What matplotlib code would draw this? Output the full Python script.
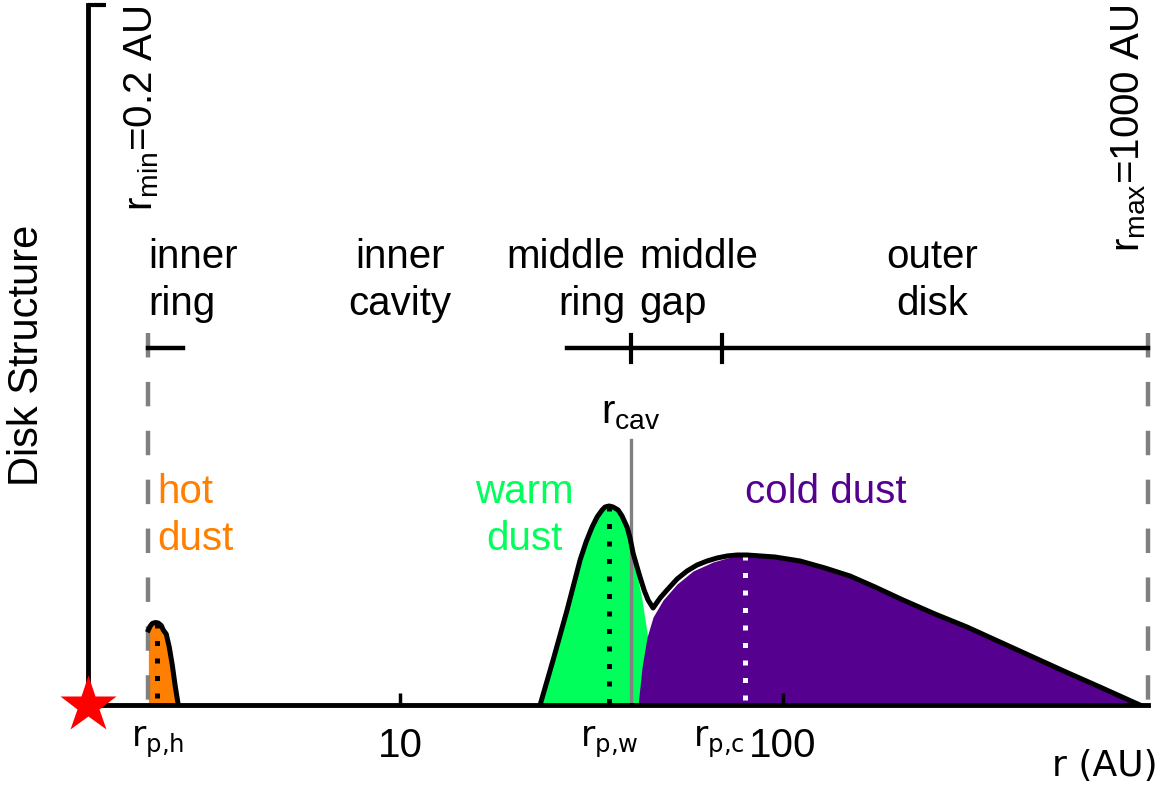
import matplotlib.pyplot as plt
from matplotlib.ticker import NullLocator

plt.rcParams['font.family'] = ['Liberation Sans', 'DejaVu Sans']

# radii in AU as placed on the sketch, heights in arbitrary units
r_axis = [1.53, 898]
r_min_pos = 2.2
r_max_pos = 898
r_ring_end = 2.71
r_mid_start = 27.3
r_cav = 40.0
r_gap = 69.3
r_ph, r_pw, r_pc = 2.32, 35.1, 79.6
h_ph, h_pw, h_pc = 82, 199, 150

hot_r = [2.20, 2.225, 2.252, 2.293, 2.334, 2.377, 2.406, 2.449, 2.494, 2.540,
         2.585, 2.633]
hot_h = [75, 79, 81.5, 82.5, 82, 79.5, 75, 71, 58, 40, 19, 0]

warm_r = [23.20, 25.09, 27.29, 29.51, 30.59, 31.72, 32.69, 33.69, 34.30, 35.14,
          35.98, 37.09, 37.98, 39.14, 39.86, 40.58, 41.57, 42.84, 44.15, 44.95, 45.77]
warm_h = [0, 45, 95, 145, 163, 178, 188, 195, 198, 199,
          198, 195, 189, 178, 167, 152, 130, 105, 72, 45, 0]

cold_r = [41.82, 42.84, 44.15, 45.77, 48.61, 52.88, 58.21, 65.65, 71.42, 75.84,
          80.54, 95.3, 110.8, 128.7, 149.6, 173.9, 205.8, 249.4, 302.3, 368.7,
          449.5, 548.2, 672.5, 855.2]
cold_h = [0, 38, 68, 88, 105, 121, 134, 143, 147, 149,
          150, 148, 144, 137, 129, 118, 105, 91, 78, 63,
          48, 33, 18, 0]

total_r = [23.20, 25.09, 27.29, 29.51, 30.59, 31.72, 32.69, 33.69, 34.30, 35.14,
           35.98, 37.09, 37.98, 39.14, 39.86, 40.58, 41.57, 42.32, 43.36, 44.41,
           45.77, 47.74, 49.79, 52.88, 56.15, 59.63, 63.33, 67.25, 71.42, 75.84,
           80.54, 95.3, 110.8, 128.7, 149.6, 173.9, 205.8, 249.4, 302.3, 368.7,
           449.5, 548.2, 672.5, 855.2]
total_h = [0, 45, 95, 145, 163, 178, 188, 195, 198, 199,
           198, 195, 189, 178, 167, 152, 138, 128, 115, 105,
           97, 107, 115, 126, 134, 140, 144, 147, 149, 150,
           150, 148, 144, 137, 129, 118, 105, 91, 78, 63,
           48, 33, 18, 0]

hot_c = '#FF7F00'
warm_c = '#00FF5A'
cold_c = '#560090'
grey = '#808080'

fig = plt.figure(figsize=(11.67, 7.87), dpi=100)
ax = fig.add_axes([88 / 1167, 82 / 787, 1060 / 1167, 700 / 787])
ax.set_xscale('log')
ax.set_xlim(r_axis)
ax.set_ylim(0, 700)

# dust components
ax.fill_between(hot_r, hot_h, 0, color=hot_c, lw=0, zorder=1)
ax.fill_between(warm_r, warm_h, 0, color=warm_c, lw=0, zorder=1)
ax.fill_between(cold_r, cold_h, 0, color=cold_c, lw=0, zorder=1.5)

ax.plot([r_cav, r_cav], [265, 0], color=grey, lw=2.4, zorder=2)

ax.plot([r_ph, r_ph], [h_ph, 0], color='k', lw=3.6, ls=(0, (1, 2.5)), zorder=2)
ax.plot([r_pw, r_pw], [h_pw, 0], color='k', lw=3.6, ls=(0, (1, 2.5)), zorder=2)
ax.plot([r_pc, r_pc], [h_pc, 0], color='white', lw=3.6, ls=(0, (1, 2.5)), zorder=2)

ax.plot(hot_r, hot_h, color='k', lw=3.6, solid_joinstyle='round', zorder=3)
ax.plot(total_r, total_h, color='k', lw=3.6, solid_joinstyle='round', zorder=3)

# rmin / rmax boundaries
for r in (r_min_pos, r_max_pos):
    ax.plot([r, r], [372, 0], color=grey, lw=3.2, ls=(0, (5.5, 5.5)), zorder=2,
            clip_on=False)

# structure bars
ax.plot([r_min_pos, r_ring_end], [357, 357], color='k', lw=3.2, zorder=3)
ax.plot([r_mid_start, r_max_pos], [357, 357], color='k', lw=3.2, zorder=3,
        clip_on=False)
for r in (r_cav, r_gap):
    ax.plot([r, r], [343, 370], color='k', lw=3.0, zorder=3)

ax.plot(r_axis[0], 0, marker='*', ms=43, color='red', mec='none',
        clip_on=False, zorder=10)

for side in ('top', 'right'):
    ax.spines[side].set_visible(False)
for side in ('left', 'bottom'):
    ax.spines[side].set_linewidth(3.5)

ax.set_xticks([10, 100])
ax.set_xticklabels(['10', '100'])
ax.xaxis.set_minor_locator(NullLocator())
ax.tick_params(axis='x', direction='in', length=8.5, width=2.5, pad=16,
               labelsize=29)
ax.set_yticks([700])
ax.tick_params(axis='y', direction='in', length=13, width=3, labelleft=False)

fs = 29
top_y = 467
ax.text(r_min_pos, top_y, 'inner\nring', ha='left', va='top', fontsize=fs,
        linespacing=1.3)
ax.text(10, top_y, 'inner\ncavity', ha='center', va='top', fontsize=fs,
        linespacing=1.3)
ax.annotate('middle\nring', (r_cav, top_y), xytext=(-4, 0),
            textcoords='offset points', ha='right', va='top', fontsize=fs,
            linespacing=1.3)
ax.annotate('middle\ngap', (r_cav, top_y), xytext=(6, 0),
            textcoords='offset points', ha='left', va='top', fontsize=fs,
            linespacing=1.3)
ax.text(245, top_y, 'outer\ndisk', ha='center', va='top', fontsize=fs,
        linespacing=1.3)

ax.text(r_ph, 232, 'hot\ndust', ha='left', va='top', fontsize=fs,
        linespacing=1.3, color=hot_c)
ax.text(21.1, 232, 'warm\ndust', ha='center', va='top', fontsize=fs,
        linespacing=1.3, color=warm_c)
ax.text(r_pc, 202, 'cold dust', ha='left', va='baseline', fontsize=fs,
        color=cold_c)

ax.text(r_cav, 282, r'$\mathregular{r_{cav}}$', ha='center', va='baseline',
        fontsize=fs)

ax.annotate(r'$\mathregular{r_{min}}$=0.2 AU', (r_min_pos, 700), xytext=(-5, 0),
            textcoords='offset points', ha='center', va='top', rotation=90,
            fontsize=fs, annotation_clip=False)
ax.annotate(r'$\mathregular{r_{max}}$=1000 AU', (r_max_pos, 700), xytext=(-14, 0),
            textcoords='offset points', ha='center', va='top', rotation=90,
            fontsize=fs, annotation_clip=False)

bfs = 25
ax.text(r_ph, -42, r'$\mathregular{r_{p{,}h}}$', ha='center', va='baseline',
        fontsize=bfs, family='DejaVu Sans', clip_on=False)
ax.text(r_pw, -42, r'$\mathregular{r_{p{,}w}}$', ha='center', va='baseline',
        fontsize=bfs, family='DejaVu Sans', clip_on=False)
ax.text(r_pc, -42, r'$\mathregular{r_{p{,}c}}$', ha='right', va='baseline',
        fontsize=bfs, family='DejaVu Sans', clip_on=False)
ax.text(1.0094, -0.101, 'r (AU)', transform=ax.transAxes, ha='right',
        va='baseline', fontsize=26, family='DejaVu Sans')

fig.text(27 / 1167, 1 - 355 / 787, 'Disk Structure', rotation=90, ha='center',
         va='center', fontsize=30)

fig.savefig('out.png', dpi=100)
